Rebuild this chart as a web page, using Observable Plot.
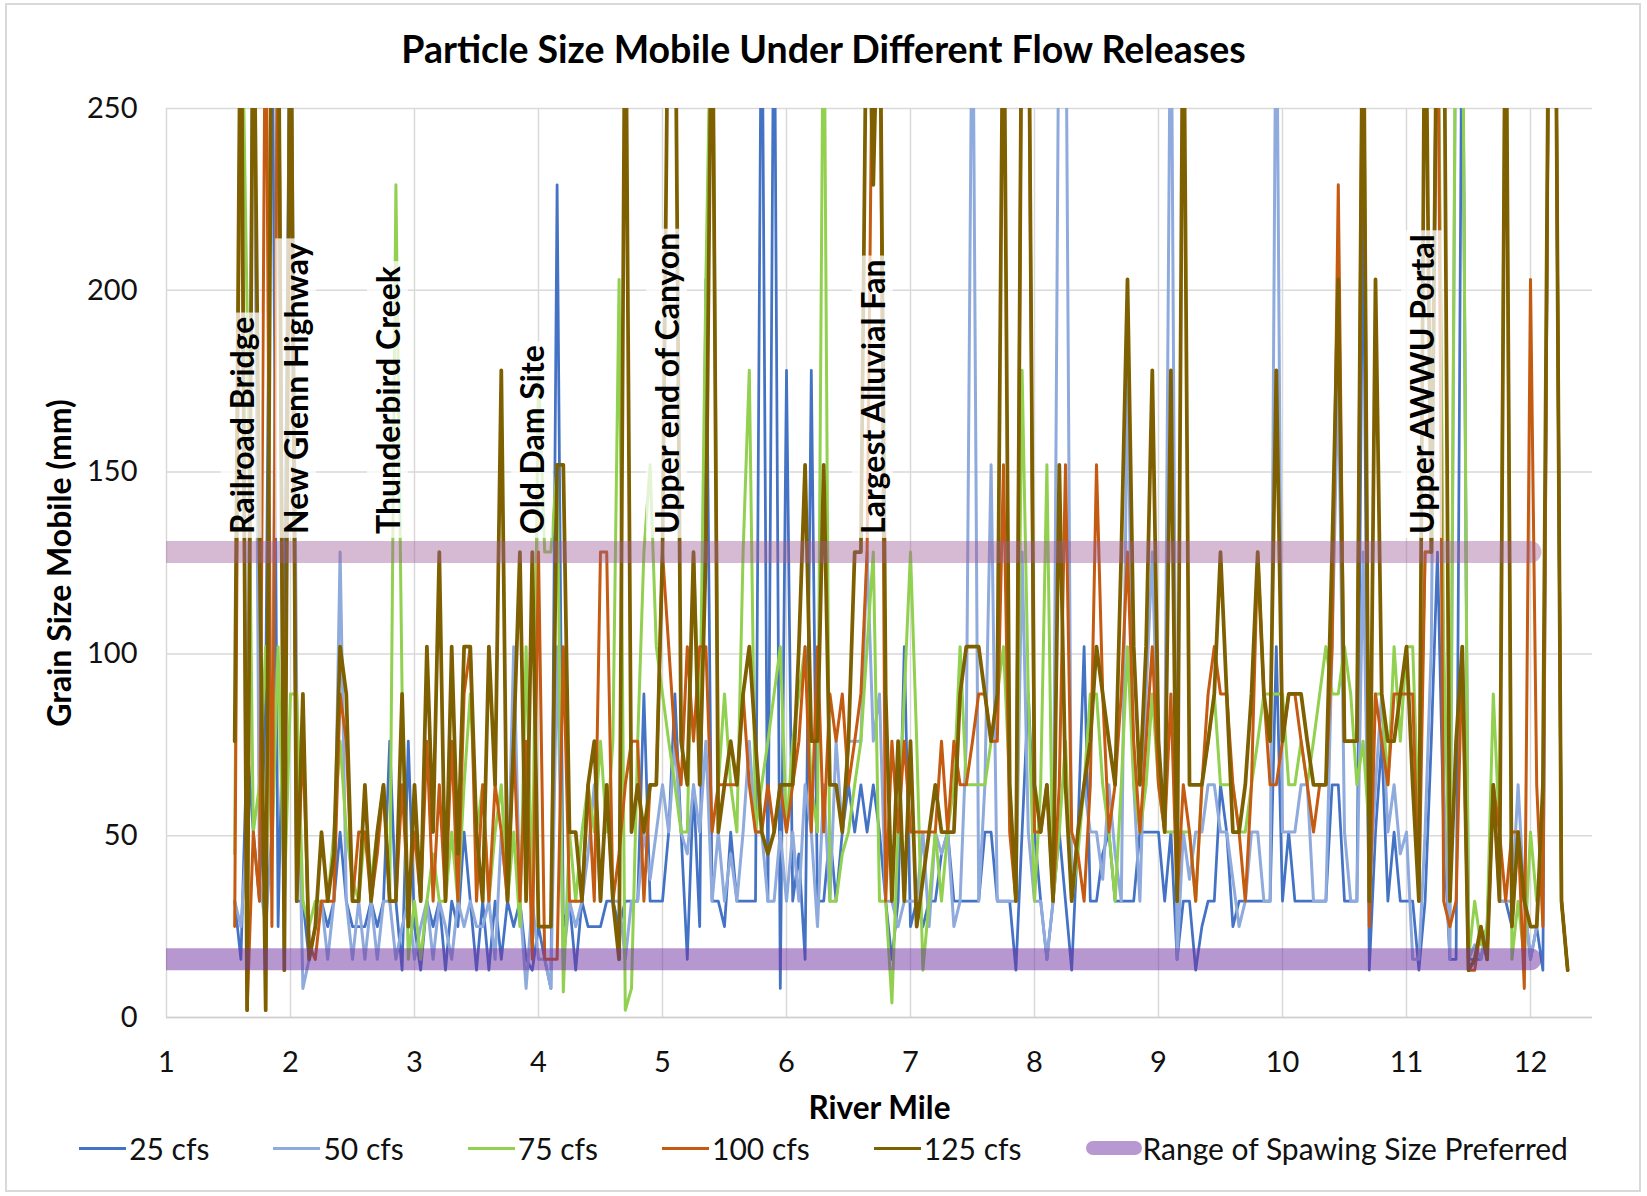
<!DOCTYPE html>
<html>
<head>
<meta charset="utf-8">
<script src="https://cdn.jsdelivr.net/npm/d3@7"></script>
<script src="https://cdn.jsdelivr.net/npm/@observablehq/plot@0.6"></script>
<style>
html,body{margin:0;padding:0;background:#fff;}
body{width:1647px;height:1196px;position:relative;overflow:hidden;font-family:Lato,"Open Sans",sans-serif;color:#111;}
#frame{position:absolute;left:5px;top:3px;width:1636px;height:1189px;border:2px solid #D9D9D9;box-sizing:border-box;}
#title{position:absolute;left:0;top:29px;width:1647px;height:40px;line-height:40px;text-align:center;font-weight:700;font-size:37.5px;color:#000;}
#chart{position:absolute;left:0;top:80px;}
#legend{position:absolute;left:0;top:1125px;width:1647px;height:46px;display:flex;justify-content:center;align-items:center;gap:64px;font-size:30px;color:#111;}
.item{display:flex;align-items:center;white-space:nowrap;}
.sw{display:inline-block;width:47px;height:3px;margin-right:3px;}
.swr{display:inline-block;width:56px;height:14px;border-radius:7px;background:#B898D0;margin-right:1px;}
</style>
</head>
<body>
<div id="frame"></div>
<div id="title"></div>
<div id="chart"></div>
<div id="legend"></div>
<script>
const titleText = "Particle Size Mobile Under Different Flow Releases";
const xLabel = "River Mile";
const yLabel = "Grain Size Mobile (mm)";
const xTicks = [1,2,3,4,5,6,7,8,9,10,11,12];
const yTicks = [0,50,100,150,200,250];

const mile = [
1.55,1.6,1.65,1.7,1.75,1.8,1.85,1.9,1.95,2,
2.05,2.1,2.15,2.2,2.25,2.3,2.35,2.4,2.45,2.5,
2.55,2.6,2.65,2.7,2.75,2.8,2.85,2.9,2.95,3,
3.05,3.1,3.15,3.2,3.25,3.3,3.35,3.4,3.45,3.5,
3.55,3.6,3.65,3.7,3.75,3.8,3.85,3.9,3.95,4,
4.05,4.1,4.15,4.2,4.25,4.3,4.35,4.4,4.45,4.5,
4.55,4.6,4.65,4.7,4.75,4.8,4.85,4.9,4.95,5,
5.05,5.1,5.15,5.2,5.25,5.3,5.35,5.4,5.45,5.5,
5.55,5.6,5.65,5.7,5.75,5.8,5.85,5.9,5.95,6,
6.05,6.1,6.15,6.2,6.25,6.3,6.35,6.4,6.45,6.5,
6.55,6.6,6.65,6.7,6.75,6.8,6.85,6.9,6.95,7,
7.05,7.1,7.15,7.2,7.25,7.3,7.35,7.4,7.45,7.5,
7.55,7.6,7.65,7.7,7.75,7.8,7.85,7.9,7.95,8,
8.05,8.1,8.15,8.2,8.25,8.3,8.35,8.4,8.45,8.5,
8.55,8.6,8.65,8.7,8.75,8.8,8.85,8.9,8.95,9,
9.05,9.1,9.15,9.2,9.25,9.3,9.35,9.4,9.45,9.5,
9.55,9.6,9.65,9.7,9.75,9.8,9.85,9.9,9.95,10,
10.05,10.1,10.15,10.2,10.25,10.3,10.35,10.4,10.45,10.5,
10.55,10.6,10.65,10.7,10.75,10.8,10.85,10.9,10.95,11,
11.05,11.1,11.15,11.2,11.25,11.3,11.35,11.4,11.45,11.5,
11.55,11.6,11.65,11.7,11.75,11.8,11.85,11.9,11.95,12,
12.05,12.1,12.15,12.2,12.25,12.3
];

const cfs25 = [
32,16,76,51,32,89,300,25,102,300,
32,32,16,25,32,25,32,51,32,25,
25,25,32,25,32,76,32,13,76,25,
13,32,25,32,13,32,25,51,32,13,
32,13,32,16,32,25,32,16,13,25,
16,8,229,25,32,13,32,25,25,25,
32,32,25,32,32,32,89,32,32,32,
51,89,51,16,64,25,203,32,32,25,
51,32,32,32,32,300,32,300,8,178,
32,45,16,178,32,32,51,32,51,64,
51,64,51,64,51,32,16,32,102,25,
32,25,32,32,45,51,32,32,32,32,
32,51,51,32,32,32,13,51,89,51,
32,16,32,51,32,13,51,102,32,32,
45,51,32,32,32,32,51,51,51,51,
32,51,16,32,32,13,25,32,32,64,
51,25,32,32,32,32,32,32,102,32,
51,32,32,32,32,32,32,64,64,32,
32,32,229,13,51,76,32,51,32,32,
32,13,32,76,128,51,16,16,300,16,
16,16,25,64,32,32,25,51,32,16,
25,13,300,300,32,13
];

const cfs50 = [
32,25,51,300,38,25,51,300,16,300,
89,8,16,25,32,16,32,128,32,16,
32,16,32,16,32,32,16,25,32,16,
25,32,16,32,25,16,32,25,32,25,
25,32,16,51,32,102,32,8,32,16,
16,8,102,16,32,25,32,45,64,32,
64,32,32,16,32,32,51,38,51,64,
51,76,51,45,64,51,76,32,51,32,
45,32,51,76,51,51,32,32,51,32,
51,32,64,51,25,64,32,76,51,76,
76,76,128,76,89,32,32,25,32,32,
32,51,25,51,45,51,25,32,76,300,
32,64,152,32,32,32,32,128,51,32,
32,16,32,300,300,32,51,64,51,51,
38,64,45,32,178,64,32,89,128,64,
64,300,16,51,38,51,51,64,64,51,
51,38,25,32,51,51,32,32,300,51,
51,51,64,64,32,32,32,102,178,51,
32,32,128,32,64,89,51,64,45,51,
16,16,51,102,300,64,16,300,300,16,
20,16,25,64,32,32,32,64,32,16,
25,51,300,300,32,13
];

const cfs75 = [
45,300,195,51,64,102,45,102,32,89,
89,32,25,32,32,32,51,76,51,38,
32,51,38,51,64,32,229,89,16,32,
16,32,45,32,32,51,32,64,89,51,
64,32,51,64,32,51,25,102,32,178,
128,128,152,7,51,32,51,64,51,76,
51,76,203,2,8,76,128,152,102,89,
76,64,51,51,128,76,203,300,64,89,
64,51,128,178,51,64,76,89,102,51,
76,89,102,64,51,300,32,32,45,51,
64,76,102,128,32,32,4,51,89,128,
76,13,32,51,32,51,64,102,64,64,
64,64,76,89,102,64,32,178,89,32,
64,152,32,51,76,32,45,64,89,89,
64,51,32,64,102,64,51,64,89,64,
51,51,51,51,51,32,64,76,89,64,
64,64,51,51,64,76,89,89,89,89,
64,64,76,64,76,89,102,89,89,102,
89,64,76,51,89,89,64,102,76,102,
102,51,128,128,300,102,32,300,300,16,
32,20,25,89,51,300,16,32,16,51,
32,45,300,300,32,13
];

const cfs100 = [
25,300,2,51,32,300,25,300,32,300,
32,76,20,16,32,32,32,89,76,32,
51,51,32,45,64,32,32,64,32,51,
32,76,32,64,32,76,32,89,102,32,
64,32,64,51,32,76,32,76,16,128,
16,16,16,102,32,32,32,64,32,128,
128,32,45,64,76,76,32,64,64,128,
102,76,64,102,76,102,102,51,64,64,
64,64,89,64,51,51,64,51,64,51,
64,76,102,51,102,51,89,76,89,64,
76,89,128,300,300,32,76,51,76,51,
51,51,51,51,76,51,76,64,64,76,
89,89,76,76,152,51,32,300,300,51,
51,64,32,64,152,51,45,32,64,152,
89,51,64,89,128,76,51,76,102,64,
51,89,32,64,51,32,64,89,102,89,
89,64,51,32,64,128,89,64,64,76,
89,89,76,64,51,64,64,102,229,76,
76,76,300,25,89,76,64,89,89,89,
89,32,128,128,300,32,25,32,102,13,
13,25,16,64,51,32,51,51,8,203,
64,25,300,300,32,13
];

const cfs125 = [
76,300,2,300,130,2,300,300,13,300,
32,89,16,25,51,32,45,102,89,32,
32,64,32,51,64,32,32,89,25,64,
32,102,51,128,32,102,45,102,102,51,
32,102,64,178,32,76,128,32,128,25,
25,25,152,152,51,51,32,64,76,32,
64,32,16,300,51,64,51,64,64,128,
300,300,76,64,128,64,128,300,51,64,
76,64,89,102,76,51,45,51,64,64,
64,102,152,76,76,152,64,64,51,76,
128,128,300,229,300,89,32,76,32,76,
25,38,51,64,51,51,51,89,102,102,
102,89,76,89,300,64,32,300,300,64,
51,64,32,152,64,32,51,64,76,102,
89,76,64,128,203,102,64,102,178,76,
51,178,32,300,64,64,64,76,89,128,
89,51,51,64,89,128,89,76,178,76,
89,89,89,76,64,64,64,128,203,76,
76,76,300,32,203,89,76,76,89,102,
64,32,300,128,300,300,32,76,102,13,
16,25,16,64,32,300,25,51,32,25,
25,64,300,300,32,13
];

const seriesNames = ["25 cfs","50 cfs","75 cfs","100 cfs","125 cfs"];
const seriesValues = [cfs25, cfs50, cfs75, cfs100, cfs125];
const seriesColors = ["#4472C4","#8FAADC","#92D050","#C55A11","#7F6000"];
const seriesWidths = [2.75, 3, 3, 3, 3.75];

const spawnRange = [16, 128];
const spawnColors = ["#7030A0", "#9E5A96"];
const spawnOpacity = [0.5, 0.42];
const spawnExtent = [1, 12];
const rangeName = "Range of Spawing Size Preferred";

const labelNames = ["Railroad Bridge","New Glenn Highway","Thunderbird Creek","Old Dam Site","Upper end of Canyon","Largest Alluvial Fan","Upper AWWU Portal"];
const labelMiles = [1.62, 2.06, 2.80, 3.96, 5.05, 6.71, 11.14];
const labelBase = 133;

seriesValues.forEach((v, k) => { if (v.length !== mile.length) throw new Error(seriesNames[k] + " length " + v.length + " vs " + mile.length); });

document.getElementById("title").textContent = titleText;

const lineMarks = seriesNames.map((name, k) =>
  Plot.line(mile.map((m, i) => ({mile: m, size: seriesValues[k][i]})), {
    x: "mile", y: "size", stroke: seriesColors[k], strokeWidth: seriesWidths[k], clip: true, strokeLinejoin: "round"
  })
);

const bandMarks = spawnRange.map((v, k) =>
  Plot.line(spawnExtent.map(m => ({mile: m, size: v})), {
    x: "mile", y: "size", stroke: spawnColors[k], strokeOpacity: spawnOpacity[k], strokeWidth: 22, strokeLinecap: "round", clip: true
  })
);

const chart = Plot.plot({
  width: 1647,
  height: 1045,
  marginTop: 28,
  marginBottom: 108,
  marginLeft: 166,
  marginRight: 55,
  x: {domain: [1, 12.5]},
  y: {domain: [0, 250]},
  style: {fontFamily: "Lato, 'Open Sans', sans-serif", fontSize: "29px", color: "#111", background: "transparent", overflow: "visible"},
  marks: [
    Plot.gridX(xTicks, {stroke: "#D9D9D9", strokeOpacity: 1, strokeWidth: 1.5}),
    Plot.gridY(yTicks, {stroke: "#D9D9D9", strokeOpacity: 1, strokeWidth: 1.5}),
    Plot.ruleY([0], {stroke: "#CFCFCF", strokeWidth: 1.5}),
    Plot.axisX(xTicks, {tickSize: 0, tickPadding: 34, label: null, fontSize: 29, tickFormat: d3.format("d")}),
    Plot.axisY(yTicks, {tickSize: 0, tickPadding: 29, label: null, fontSize: 29, tickFormat: d3.format("d")}),
    ...lineMarks,
    ...bandMarks,
    Plot.text(labelNames, {x: labelMiles, y: labelNames.map(() => labelBase), text: d => d, rotate: -90, textAnchor: "start", lineAnchor: "middle", fontWeight: 700, fontSize: 32, fill: "#000"}),
    Plot.text([xLabel], {frameAnchor: "bottom", dy: 91, text: d => d, fontWeight: 700, fontSize: 31.5, textAnchor: "middle", lineAnchor: "middle", fill: "#000"}),
    Plot.text([yLabel], {frameAnchor: "left", dx: -106, rotate: -90, text: d => d, fontWeight: 700, fontSize: 32, textAnchor: "middle", lineAnchor: "middle", fill: "#000"})
  ]
});
document.getElementById("chart").append(chart);

// semi-transparent boxes behind annotation labels
chart.querySelectorAll('g[aria-label="text"] text').forEach(t => {
  if (!labelNames.includes(t.textContent)) return;
  const b = t.getBBox();
  const r = document.createElementNS("http://www.w3.org/2000/svg", "rect");
  r.setAttribute("x", b.x - 4);
  r.setAttribute("y", b.y - 1);
  r.setAttribute("width", b.width + 8);
  r.setAttribute("height", b.height + 2);
  r.setAttribute("fill", "#fff");
  r.setAttribute("fill-opacity", "0.75");
  r.setAttribute("stroke", "none");
  const tr = t.getAttribute("transform");
  if (tr) r.setAttribute("transform", tr);
  t.parentNode.insertBefore(r, t);
});

// legend
const legend = document.getElementById("legend");
seriesNames.forEach((name, k) => {
  const it = document.createElement("div");
  it.className = "item";
  const sw = document.createElement("span");
  sw.className = "sw";
  sw.style.background = seriesColors[k];
  it.append(sw, document.createTextNode(name));
  legend.append(it);
});
const itr = document.createElement("div");
itr.className = "item";
const swr = document.createElement("span");
swr.className = "swr";
itr.append(swr, document.createTextNode(rangeName));
legend.append(itr);
</script>
</body>
</html>
